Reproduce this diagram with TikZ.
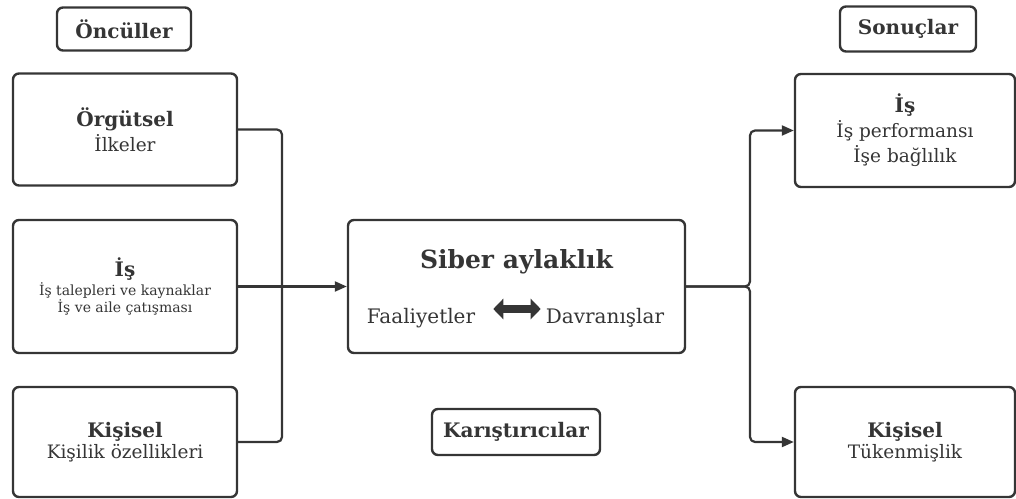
\documentclass[tikz,border=0pt]{standalone}
\usepackage{fontspec}
\setmainfont{DejaVu Serif}
\usetikzlibrary{arrows.meta}
\definecolor{ink}{HTML}{353535}
\tikzset{
  box/.style={draw=ink, line width=2.4bp, rounded corners=6bp, text=ink, align=center, inner sep=0pt},
  txt/.style={text=ink, align=center, inner sep=0pt},
  link/.style={draw=ink, line width=2.2bp, rounded corners=5bp},
}
\newcommand{\headfont}{\fontsize{20bp}{24bp}\selectfont\bfseries}
\newcommand{\bodyfont}{\fontsize{18.5bp}{22bp}\selectfont}
\newcommand{\minorfont}{\fontsize{14bp}{16bp}\selectfont}
\begin{document}
\begin{tikzpicture}[>={Triangle[length=12bp,width=10bp]},line join=round]
\useasboundingbox (0bp,0bp) rectangle (1016bp,499bp);
%%
\node (node_oncul) at (124bp,470bp) [box,minimum width=134bp,minimum height=43bp] {\headfont Öncüller};
  \node (node_sonuc) at (908bp,470bp) [box,minimum width=136bp,minimum height=45bp] {\headfont Sonuçlar};
  \node (node_orgut) at (125bp,369.5bp) [box,minimum width=224bp,minimum height=112bp] {{\headfont Örgütsel}\\[3bp]{\bodyfont İlkeler}};
  \node (node_isl) at (125bp,212.5bp) [box,minimum width=224bp,minimum height=133bp] {{\headfont İş}\\[1bp]{\minorfont İş talepleri ve kaynaklar}\\{\minorfont İş ve aile çatışması}};
  \node (node_kisl) at (125bp,57bp) [box,minimum width=224bp,minimum height=110bp] {{\headfont Kişisel}\\[2bp]{\bodyfont Kişilik özellikleri}};
  \node (node_siber) at (516.5bp,212.5bp) [box,minimum width=337bp,minimum height=133bp] {};
  \node (node_title) at (516.5bp,237bp) [txt] {\fontsize{25bp}{28bp}\selectfont\bfseries Siber aylaklık};
  \node (node_faal) at (421bp,181bp) [txt] {\fontsize{20bp}{24bp}\selectfont Faaliyetler};
  \node (node_davr) at (605bp,181bp) [txt] {\fontsize{20bp}{24bp}\selectfont Davranışlar};
  \node (node_karis) at (516bp,67bp) [box,minimum width=168bp,minimum height=46bp] {\headfont Karıştırıcılar};
  \node (node_isr) at (905bp,368.5bp) [box,minimum width=220bp,minimum height=113bp] {{\headfont İş}\\[3bp]{\bodyfont İş performansı}\\[3bp]{\bodyfont İşe bağlılık}};
  \node (node_kisr) at (905bp,57bp) [box,minimum width=220bp,minimum height=110bp] {{\headfont Kişisel}\\[2bp]{\bodyfont Tükenmişlik}};
%
  \draw [link] (node_orgut.east) -| (282bp,212.5bp) |- (node_kisl.east);
  \draw [link,->] (node_isl.east) -- (node_siber.west);
  \draw [link,->] (node_siber.east) -| (750bp,300bp) |- (node_isr.west);
  \draw [link,->] (node_siber.east) -| (750bp,120bp) |- (node_kisr.west);
  \draw [ink,line width=8bp,{Triangle[length=10bp,width=20bp]}-{Triangle[length=10bp,width=20bp]}] ([xshift=18bp,yshift=9bp]node_faal.east) -- ([xshift=-5bp,yshift=9bp]node_davr.west);
%
\end{tikzpicture}
\end{document}
